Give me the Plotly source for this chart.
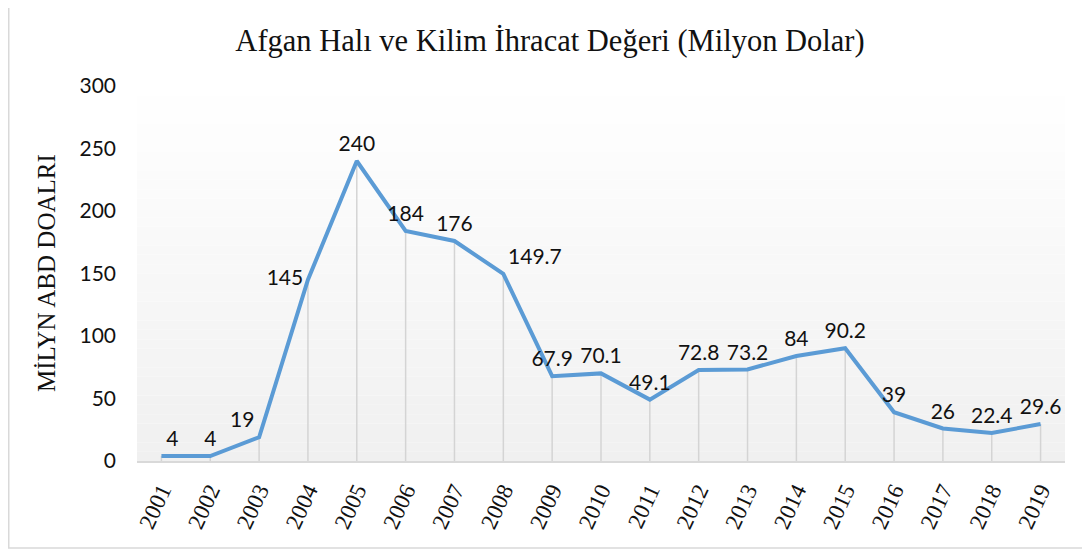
import plotly.graph_objects as go

years = [str(y) for y in range(2001, 2020)]
values = [4, 4, 19, 145, 240, 184, 176, 149.7, 67.9, 70.1, 49.1, 72.8, 73.2, 84, 90.2, 39, 26, 22.4, 29.6]
y_ticks = [0, 50, 100, 150, 200, 250, 300]
title_text = "Afgan Halı ve Kilim İhracat Değeri (Milyon Dolar)"
y_title = "MİLYN ABD DOALRI"
leader_idx = [8, 12]
leader_dx = [12, 5]

label_pos = ["top right", "top center", "top left", "middle left", "top center", "top center",
             "top center", "top right", "top center", "top center", "top center", "top center",
             "top center", "top center", "top center", "top center", "top center", "top center",
             "top center"]

# page body has an 8px margin; figure coordinates are screen minus 8
OFF = 8
W, H = 1090 - OFF, 550 - OFF
L, R, T, B = 137 - OFF, 25, 86 - OFF, 89
pw, ph = W - L - R, H - T - B

def px_x(sx):
    return (sx - OFF - L) / pw

def px_y(sy):
    return (H - B - (sy - OFF)) / ph

fig = go.Figure()

# drop lines
fig.add_trace(go.Scatter(
    x=years, y=values, mode="markers",
    marker=dict(size=1, color="rgba(0,0,0,0)"),
    error_y=dict(type="data", symmetric=False, array=[0] * len(values),
                 arrayminus=values, color="#d4d4d4", thickness=1.5, width=0),
    hoverinfo="skip", showlegend=False))

# main line
fig.add_trace(go.Scatter(
    x=years, y=values, mode="lines",
    line=dict(color="#5B9BD5", width=4),
    showlegend=False))

# data labels
fig.add_trace(go.Scatter(
    x=years, y=values, mode="markers+text",
    marker=dict(size=6, color="rgba(0,0,0,0)"),
    text=[f"{v:g}" for v in values],
    textposition=label_pos,
    textfont=dict(family="Lato", size=21, color="#111111"),
    hoverinfo="skip", showlegend=False))

shapes = []
# gradient plot background
N = 40
for i in range(N):
    t = (i + 0.5) / N
    c = int(round(240 + 15 * t))
    shapes.append(dict(type="rect", xref="paper", yref="paper",
                       x0=0, x1=1, y0=i / N, y1=(i + 1) / N,
                       fillcolor=f"rgb({c},{c},{c})", line=dict(width=0), layer="below"))
# chart border (left and bottom edges visible)
bx0, by0, bx1 = px_x(8.75), px_y(548), px_x(1100)
by1 = px_y(OFF - 2)
shapes.append(dict(type="path", xref="paper", yref="paper",
                   path=f"M {bx0} {by1} L {bx0} {by0} L {bx1} {by0}",
                   line=dict(color="#d9d9d9", width=1.5)))

annotations = [
    dict(text=y_title, textangle=-90, xref="paper", yref="paper",
         x=px_x(46), y=px_y(273), xanchor="center", yanchor="middle", showarrow=False,
         font=dict(family="Liberation Serif", size=25, color="#111111"))
]
for i, dx in zip(leader_idx, leader_dx):
    annotations.append(dict(x=years[i], y=values[i], xref="x", yref="y", text="",
                            showarrow=True, arrowhead=0, arrowwidth=1.2,
                            arrowcolor="#a6a6a6", ax=dx, ay=-12, standoff=2))

fig.update_layout(
    width=W, height=H,
    margin=dict(l=L, r=R, t=T, b=B),
    paper_bgcolor="white", plot_bgcolor="white",
    title=dict(text=title_text, x=(550 - OFF) / W, xanchor="center",
               y=1 - (40 - OFF) / H, yanchor="middle", yref="container",
               font=dict(family="Liberation Serif", size=30.5, color="#111111")),
    xaxis=dict(type="category", range=[-0.5, len(years) - 0.5], automargin=False,
               tickangle=-65, showgrid=False, zeroline=False,
               showline=True, linecolor="#d9d9d9", linewidth=2,
               ticks="", ticklabelstandoff=5,
               tickfont=dict(family="Liberation Serif", size=23, color="#111111")),
    yaxis=dict(range=[0, 300], tickvals=y_ticks, showgrid=False, zeroline=False,
               showline=False, ticks="", ticklabelstandoff=20, automargin=False,
               tickfont=dict(family="Lato", size=21, color="#111111")),
    shapes=shapes, annotations=annotations,
)

fig.write_html("out.html")
